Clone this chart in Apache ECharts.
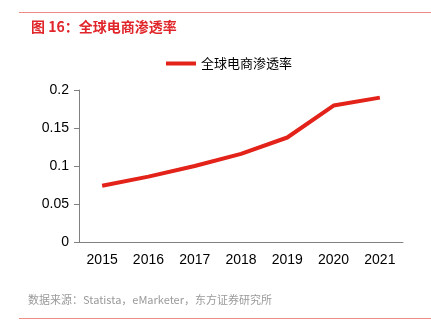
<!DOCTYPE html>
<html><head><meta charset="utf-8">
<script src="https://cdn.jsdelivr.net/npm/echarts@6/dist/echarts.min.js"></script>
<style>html,body{margin:0;padding:0;background:#fff}#c{width:431px;height:333px}</style>
</head><body><div id="c"></div>
<script>
const categories = ['2015','2016','2017','2018','2019','2020','2021'];
const penetration = [0.074, 0.086, 0.100, 0.116, 0.1375, 0.1795, 0.19];
const yTicks = [0, 0.05, 0.1, 0.15, 0.2];
const seriesName = '全球电商渗透率';
const titleText = '图 16：全球电商渗透率';
const sourceText = '数据来源：Statista，eMarketer，东方证券研究所';

const chart = echarts.init(document.getElementById('c'));
chart.setOption({
  animation: false,
  textStyle: {fontFamily: 'Liberation Sans, Noto Sans CJK SC, sans-serif'},
  title: {
    text: titleText, left: 26, top: 15,
    textStyle: {color: '#e0262a', fontSize: 14, fontWeight: 'bold', fontFamily: 'Noto Sans CJK SC, sans-serif'}
  },
  graphic: [
    {type: 'line', shape: {x1: 19, y1: 12.5, x2: 431, y2: 12.5}, style: {stroke: '#ef8a85', lineWidth: 1}},
    {type: 'line', shape: {x1: 19, y1: 318.5, x2: 431, y2: 318.5}, style: {stroke: '#ef8a85', lineWidth: 1}},
    {type: 'text', left: 28, top: 294, style: {text: sourceText, fill: '#9a9a9a', fontSize: 11, fontFamily: 'Noto Sans CJK SC, sans-serif'}}
  ],
  legend: {
    top: 52, left: 161, itemWidth: 30, itemHeight: 4, itemGap: 6,
    icon: 'rect',
    textStyle: {fontSize: 13, color: '#000', fontFamily: 'Noto Sans CJK SC, sans-serif'},
    data: [seriesName]
  },
  grid: {left: 79, right: 28, top: 90, bottom: 91},
  xAxis: {
    type: 'category', data: categories, boundaryGap: true,
    axisLine: {lineStyle: {color: '#808080'}},
    axisTick: {inside: true, length: 8, lineStyle: {color: '#808080'}},
    axisLabel: {color: '#000', fontSize: 14, margin: 11}
  },
  yAxis: {
    type: 'value', min: 0, max: 0.2, interval: 0.05,
    axisLine: {show: true, lineStyle: {color: '#808080'}},
    axisTick: {show: true, length: 5, lineStyle: {color: '#808080'}},
    splitLine: {show: false},
    axisLabel: {color: '#000', fontSize: 14, margin: 10, formatter: v => String(+v.toFixed(2))}
  },
  series: [{
    name: seriesName, type: 'line', data: penetration,
    symbol: 'none', lineStyle: {color: '#e32219', width: 4}, itemStyle: {color: '#e32219'}
  }]
});
</script></body></html>
